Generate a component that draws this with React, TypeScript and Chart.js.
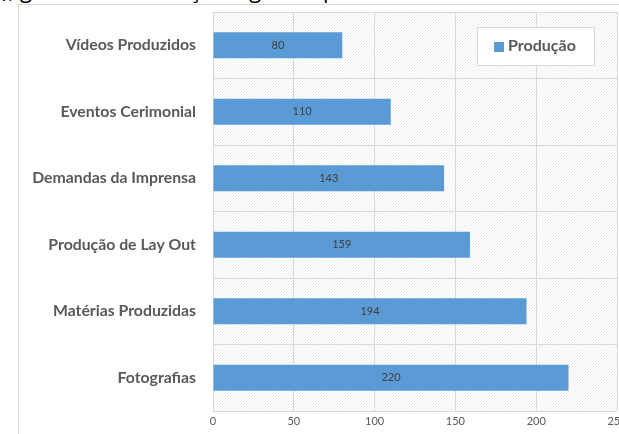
import React, { useEffect, useRef } from "react";
import { Chart, registerables } from "chart.js";

Chart.register(...registerables);

const categories = [
  "Vídeos Produzidos",
  "Eventos Cerimonial",
  "Demandas da Imprensa",
  "Produção de Lay Out",
  "Matérias Produzidas",
  "Fotografias",
];
const seriesLabel = "Produção";
const values = [80, 110, 143, 159, 194, 220];
const xTicks = [0, 50, 100, 150, 200, 250];
const headerText = "), geral de informação e gestão pública e institucional.";

const BAR = "#5b9bd5";
const GRID = "#d9d9d9";
const TEXT = "#595959";
const FONT = "Lato, 'Open Sans', sans-serif";

function makePattern(): CanvasPattern | string {
  const c = document.createElement("canvas");
  c.width = 3;
  c.height = 3;
  const g = c.getContext("2d");
  if (!g) return "#fff";
  g.fillStyle = "#ffffff";
  g.fillRect(0, 0, 3, 3);
  g.fillStyle = "#ebebeb";
  g.fillRect(2, 0, 1, 1);
  g.fillRect(1, 1, 1, 1);
  g.fillRect(0, 2, 1, 1);
  const p = g.createPattern(c, "repeat");
  return p || "#fff";
}

const bgPlugin = {
  id: "hatchBg",
  beforeDraw(chart: any) {
    const { ctx, chartArea } = chart;
    ctx.save();
    ctx.fillStyle = makePattern();
    ctx.fillRect(chartArea.left, chartArea.top, chartArea.right - chartArea.left, chartArea.bottom - chartArea.top);
    ctx.restore();
  },
};

const labelPlugin = {
  id: "barLabels",
  afterDatasetsDraw(chart: any) {
    const { ctx } = chart;
    const meta = chart.getDatasetMeta(0);
    const data = chart.data.datasets[0].data;
    ctx.save();
    ctx.font = `11px ${FONT}`;
    ctx.fillStyle = "#404040";
    ctx.textAlign = "center";
    ctx.textBaseline = "middle";
    meta.data.forEach((el: any, i: number) => {
      const cx = (el.x + el.base) / 2;
      ctx.fillText(String(data[i]), cx, el.y);
    });
    ctx.restore();
  },
};

const legendPlugin = {
  id: "insideLegend",
  afterDraw(chart: any) {
    const { ctx } = chart;
    const x = 477, y = 27, w = 117, h = 38;
    ctx.save();
    ctx.fillStyle = "#ffffff";
    ctx.fillRect(x, y, w, h);
    ctx.strokeStyle = GRID;
    ctx.lineWidth = 1;
    ctx.strokeRect(x + 0.5, y + 0.5, w, h);
    ctx.fillStyle = BAR;
    ctx.fillRect(494, 42, 10, 10);
    ctx.font = `bold 16px ${FONT}`;
    ctx.fillStyle = TEXT;
    ctx.textAlign = "left";
    ctx.textBaseline = "middle";
    ctx.fillText(chart.data.datasets[0].label, 508, 46);
    ctx.restore();
  },
};

export default function App() {
  const ref = useRef<HTMLCanvasElement>(null);

  useEffect(() => {
    document.body.style.margin = "0";
    if (!ref.current) return;
    const chart = new Chart(ref.current, {
      type: "bar",
      data: {
        labels: categories,
        datasets: [
          {
            label: seriesLabel,
            data: values,
            backgroundColor: BAR,
            borderWidth: 0,
            categoryPercentage: 1,
            barPercentage: 0.39,
          },
        ],
      },
      options: {
        indexAxis: "y",
        animation: false,
        responsive: false,
        maintainAspectRatio: false,
        layout: { padding: { left: 0, top: 12, right: 2, bottom: 0 } },
        plugins: {
          legend: { display: false },
          tooltip: { enabled: false },
          title: { display: false },
        },
        scales: {
          x: {
            min: 0,
            max: 250,
            afterBuildTicks(scale: any) {
              scale.ticks = xTicks.map((v) => ({ value: v }));
            },
            afterFit(scale: any) {
              scale.height = 23;
              scale.paddingLeft = 0;
              scale.paddingRight = 0;
            },
            grid: { color: GRID, drawTicks: false, lineWidth: 1 },
            border: { display: false },
            ticks: {
              color: TEXT,
              font: { family: FONT, size: 11 },
              padding: 4,
              maxRotation: 0,
              autoSkip: false,
            },
          },
          y: {
            afterFit(scale: any) {
              scale.width = 213;
              scale.paddingTop = 0;
              scale.paddingBottom = 0;
            },
            grid: { color: GRID, drawTicks: false, offset: true },
            border: { display: true, color: GRID },
            ticks: {
              color: TEXT,
              font: { family: FONT, size: 15.8, weight: "bold" },
              padding: 17,
              autoSkip: false,
            },
          },
        },
      },
      plugins: [bgPlugin, labelPlugin, legendPlugin],
    });
    return () => chart.destroy();
  }, []);

  return (
    <div style={{ position: "fixed", left: 0, top: 0, width: 619, height: 434, background: "#fff", overflow: "hidden" }}>
      <div
        style={{
          position: "absolute",
          left: 18,
          top: 4,
          width: 640,
          height: 480,
          borderLeft: `1px solid ${GRID}`,
          borderTop: `1px solid ${GRID}`,
          background: "#fff",
        }}
      />
      <div
        style={{
          position: "absolute",
          left: 2,
          top: -22,
          whiteSpace: "nowrap",
          fontFamily: "'Open Sans', sans-serif",
          fontSize: 22,
          lineHeight: "22px",
          color: "#000",
        }}
      >
        {headerText}
      </div>
      <canvas ref={ref} width={619} height={434} style={{ position: "absolute", left: 0, top: 0 }} />
    </div>
  );
}
